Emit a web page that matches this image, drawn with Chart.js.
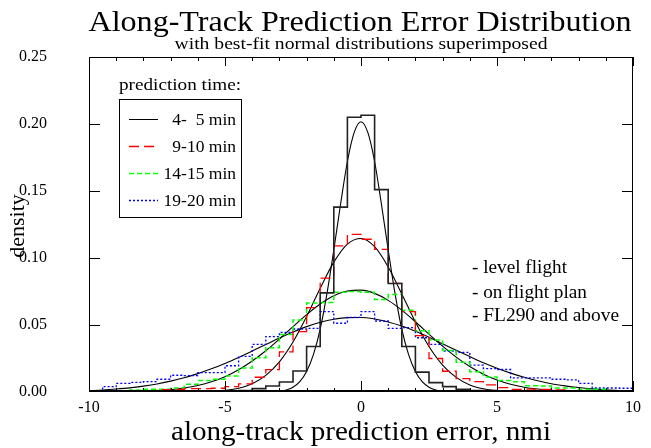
<!DOCTYPE html>
<html>
<head>
<meta charset="utf-8">
<script src="https://cdn.jsdelivr.net/npm/chart.js@4"></script>
<style>
html, body { margin: 0; padding: 0; background: #fff; }
</style>
</head>
<body>
<canvas id="myChart" width="651" height="448"></canvas>
<script>
// bin edges of the histograms (nmi), 0.5 wide
const binEdges = [-10, -9.5, -9, -8.5, -8, -7.5, -7, -6.5, -6, -5.5, -5, -4.5, -4, -3.5, -3, -2.5, -2, -1.5, -1, -0.5,
	0, 0.5, 1, 1.5, 2, 2.5, 3, 3.5, 4, 4.5, 5, 5.5, 6, 6.5, 7, 7.5, 8, 8.5, 9, 9.5, 10]

// histogram densities, one value per bin (left edge = binEdges[i])
const hist4to5 = [0, 0, 0, 0, 0, 0, 0, 0, 0.0003, 0.0005,
	0.0008, 0.001, 0.0025, 0.0045, 0.0075, 0.0157, 0.034, 0.074, 0.138, 0.205,
	0.2065, 0.151, 0.081, 0.034, 0.0148, 0.007, 0.004, 0.002, 0.001, 0.001,
	0.0005, 0.0005, 0.0003, 0, 0, 0, 0, 0, 0, 0]
const hist9to10 = [0.0003, 0.0003, 0.0005, 0.0008, 0.001, 0.0018, 0.002, 0.0025, 0.0025, 0.0028,
	0.004, 0.006, 0.011, 0.0167, 0.030, 0.045, 0.063, 0.085, 0.109, 0.1177,
	0.114, 0.1065, 0.081, 0.060, 0.042, 0.025, 0.0155, 0.010, 0.0077, 0.0053,
	0.0032, 0.002, 0.0022, 0.002, 0.0015, 0.001, 0.001, 0.0008, 0.0005, 0.0005]
const hist14to15 = [0.0005, 0.0008, 0.001, 0.0015, 0.002, 0.002, 0.003, 0.0057, 0.0085, 0.0095,
	0.012, 0.018, 0.0255, 0.033, 0.043, 0.0537, 0.0665, 0.0667, 0.0745, 0.075,
	0.0745, 0.069, 0.0727, 0.061, 0.0458, 0.0388, 0.031, 0.0222, 0.0152, 0.0112,
	0.0085, 0.0077, 0.0047, 0.0045, 0.003, 0.003, 0.002, 0.002, 0.001, 0.001]
const hist19to20 = [0, 0.004, 0.0065, 0.0072, 0.0078, 0.0095, 0.0125, 0.0122, 0.0145, 0.0145,
	0.0196, 0.0266, 0.0355, 0.0413, 0.0445, 0.047, 0.0475, 0.060, 0.0513, 0.0557,
	0.060, 0.053, 0.0475, 0.048, 0.0405, 0.0355, 0.0306, 0.0296, 0.020, 0.0175,
	0.0168, 0.0105, 0.0105, 0.0105, 0.0095, 0.009, 0.0065, 0.003, 0.003, 0.0028]

// best-fit normal curves, read at the bin edges
const fit9to10 = [0, 0, 0, 0, 0, 0, 0, 0, 0.0002, 0.0004,
	0.0012, 0.0028, 0.0062, 0.0124, 0.0225, 0.0373, 0.0563, 0.0774, 0.0969, 0.1104,
	0.1146, 0.1084, 0.0933, 0.0732, 0.0523, 0.034, 0.0201, 0.0109, 0.0053, 0.0024,
	0.001, 0.0004, 0.0001, 0, 0, 0, 0, 0, 0, 0, 0]
const fit14to15 = [0.00002, 0.00007, 0.00014, 0.00028, 0.00053, 0.00098, 0.00173, 0.00295, 0.00482, 0.00759,
	0.01144, 0.01657, 0.0231, 0.0308, 0.0395, 0.0488, 0.0578, 0.0657, 0.0718, 0.0754,
	0.076, 0.0736, 0.0684, 0.0611, 0.0524, 0.0432, 0.0342, 0.026, 0.019, 0.0133,
	0.009, 0.0058, 0.0036, 0.0022, 0.00124, 0.00068, 0.00036, 0.00018, 0.00009, 0.00004, 0.00002]
const fit19to20 = [0.001, 0.0015, 0.0022, 0.0031, 0.0044, 0.006, 0.0081, 0.0106, 0.0137, 0.0173,
	0.0213, 0.0258, 0.0306, 0.0354, 0.0403, 0.0448, 0.0488, 0.052, 0.0543, 0.0555,
	0.0556, 0.0545, 0.0523, 0.0492, 0.0453, 0.0408, 0.036, 0.0311, 0.0264, 0.0218,
	0.0177, 0.0141, 0.011, 0.0084, 0.0062, 0.0046, 0.0033, 0.0023, 0.0016, 0.0011, 0.0007]

// the 4-5 min curve is narrow, so it is read on a finer grid
const narrowX = [-10, -4, -3.5, -3, -2.75, -2.5, -2.25, -2, -1.75, -1.5, -1.25, -1, -0.75, -0.5, -0.25, 0,
	0.25, 0.5, 0.75, 1, 1.25, 1.5, 1.75, 2, 2.25, 2.5, 2.75, 3, 3.5, 4, 10]
const fit4to5 = [0, 0, 0.0001, 0.0006, 0.0015, 0.0036, 0.0077, 0.0153, 0.0279, 0.047, 0.0736, 0.106, 0.1403, 0.172, 0.1937, 0.2017,
	0.1937, 0.172, 0.1403, 0.106, 0.0736, 0.047, 0.0279, 0.0153, 0.0077, 0.0036, 0.0015, 0.0006, 0.0001, 0, 0]

const seriesLabels = ['4-  5 min', '9-10 min', '14-15 min', '19-20 min']
const notes = ['- level flight', '- on flight plan', '- FL290 and above']

const serif = '"Liberation Serif", "Times New Roman", serif'

function histPoints(vals) {
	return binEdges.map((x, i) => ({x: x, y: vals[Math.min(i, vals.length - 1)]}))
}
function curvePoints(xs, vals) {
	return xs.map((x, i) => ({x: x, y: vals[i]}))
}

const styles = [
	{color: '#222', dash: [], width: 1.6},
	{color: '#ff0000', dash: [10, 5], width: 1.3},
	{color: '#00ff00', dash: [5, 3], width: 1.5},
	{color: '#0000ff', dash: [2, 2], width: 1.3}
]
const hists = [hist4to5, hist9to10, hist14to15, hist19to20]

const datasets = []
hists.forEach((h, i) => {
	datasets.push({
		label: seriesLabels[i],
		data: histPoints(h),
		stepped: true,
		borderColor: styles[i].color,
		borderDash: styles[i].dash,
		borderWidth: styles[i].width,
		pointRadius: 0,
		fill: false
	})
})
const fits = [curvePoints(narrowX, fit4to5), curvePoints(binEdges, fit9to10), curvePoints(binEdges, fit14to15), curvePoints(binEdges, fit19to20)]
fits.forEach((f, i) => {
	datasets.push({
		label: 'fit ' + seriesLabels[i],
		data: f,
		cubicInterpolationMode: 'monotone',
		borderColor: '#000',
		borderWidth: 1.1,
		pointRadius: 0,
		fill: false
	})
})

// draw text squeezed/stretched to a given width
function fitText(ctx, text, x, y, size, width, align) {
	ctx.save()
	ctx.font = size + 'px ' + serif
	const w = ctx.measureText(text).width
	ctx.translate(x, y)
	ctx.scale(width / w, 1)
	ctx.textAlign = align
	ctx.textBaseline = 'alphabetic'
	ctx.fillStyle = '#000'
	ctx.fillText(text, 0, 0)
	ctx.restore()
}

const decorations = {
	id: 'decorations',
	afterDraw(chart) {
		const ctx = chart.ctx
		const a = chart.chartArea
		const xs = chart.scales.x
		const ys = chart.scales.y
		ctx.save()
		ctx.strokeStyle = '#000'
		ctx.lineWidth = 1
		ctx.setLineDash([])
		ctx.strokeRect(a.left + 0.5, a.top + 0.5, a.right - a.left - 1, a.bottom - a.top - 1)
		ctx.lineWidth = 2
		ctx.beginPath()
		ctx.moveTo(a.left, a.bottom - 1)
		ctx.lineTo(a.right, a.bottom - 1)
		ctx.stroke()

		ctx.lineWidth = 1
		ctx.beginPath()
		for (let v = -10; v <= 10; v++) {
			const px = Math.round(xs.getPixelForValue(v)) + 0.5
			const major = v % 5 === 0
			ctx.moveTo(px, a.bottom)
			ctx.lineTo(px, a.bottom - (major ? 11 : 4))
			ctx.moveTo(px, a.top)
			ctx.lineTo(px, a.top + (major ? 9 : 4))
		}
		ys.ticks.forEach(t => {
			if (t.value <= 0 || t.value >= 0.25) return
			const py = Math.round(ys.getPixelForValue(t.value)) + 0.5
			ctx.moveTo(a.left, py)
			ctx.lineTo(a.left + 11, py)
			ctx.moveTo(a.right, py)
			ctx.lineTo(a.right - 11, py)
		})
		ctx.stroke()

		// titles
		fitText(ctx, 'Along-Track Prediction Error Distribution', 360, 31, 30, 543, 'center')
		fitText(ctx, 'with best-fit normal distributions superimposed', 361, 49, 17, 373, 'center')
		fitText(ctx, 'along-track prediction error, nmi', 361, 440, 27, 380, 'center')
		ctx.save()
		ctx.translate(18, 226)
		ctx.rotate(-Math.PI / 2)
		ctx.font = '22px ' + serif
		ctx.fillStyle = '#000'
		ctx.textAlign = 'center'
		ctx.textBaseline = 'middle'
		ctx.fillText('density', 0, 0)
		ctx.restore()

		// legend
		fitText(ctx, 'prediction time:', 119, 89.5, 17, 122, 'left')
		ctx.lineWidth = 1
		ctx.strokeRect(119.5, 99.5, 122, 118)
		const rows = [119.5, 146.5, 173.5, 200.5]
		rows.forEach((y, i) => {
			ctx.beginPath()
			ctx.strokeStyle = i === 0 ? '#000' : styles[i].color
			ctx.lineWidth = i === 0 ? 1 : 1.4
			ctx.setLineDash(styles[i].dash)
			ctx.moveTo(129, y)
			ctx.lineTo(158, y)
			ctx.stroke()
			ctx.setLineDash([])
			ctx.font = '17.5px ' + serif
			ctx.fillStyle = '#000'
			ctx.textAlign = 'right'
			ctx.textBaseline = 'alphabetic'
			ctx.fillText(seriesLabels[i], 236, y + 5.5)
		})

		// notes
		const noteY = [273, 298, 321]
		const noteW = [95, 115, 147]
		notes.forEach((n, i) => fitText(ctx, n, 472, noteY[i], 18, noteW[i], 'left'))
		ctx.restore()
	}
}

const config = {
	type: 'line',
	data: {datasets: datasets},
	options: {
		responsive: false,
		animation: false,
		layout: {padding: {left: 0, right: 18, top: 57, bottom: 0}},
		plugins: {legend: {display: false}, tooltip: {enabled: false}},
		scales: {
			x: {
				type: 'linear',
				min: -10,
				max: 10,
				afterFit: s => { s.height = 56 },
				ticks: {stepSize: 5, color: '#000', padding: 6, maxRotation: 0, font: {family: serif, size: 16}},
				grid: {display: false, drawTicks: false},
				border: {display: false}
			},
			y: {
				min: 0,
				max: 0.25,
				afterFit: s => { s.width = 89 },
				ticks: {stepSize: 0.05, color: '#000', padding: 42, font: {family: serif, size: 16}, callback: v => v.toFixed(2)},
				grid: {display: false, drawTicks: false},
				border: {display: false}
			}
		}
	},
	plugins: [decorations]
}

const myChart = new Chart(document.getElementById('myChart'), config)
</script>
</body>
</html>
